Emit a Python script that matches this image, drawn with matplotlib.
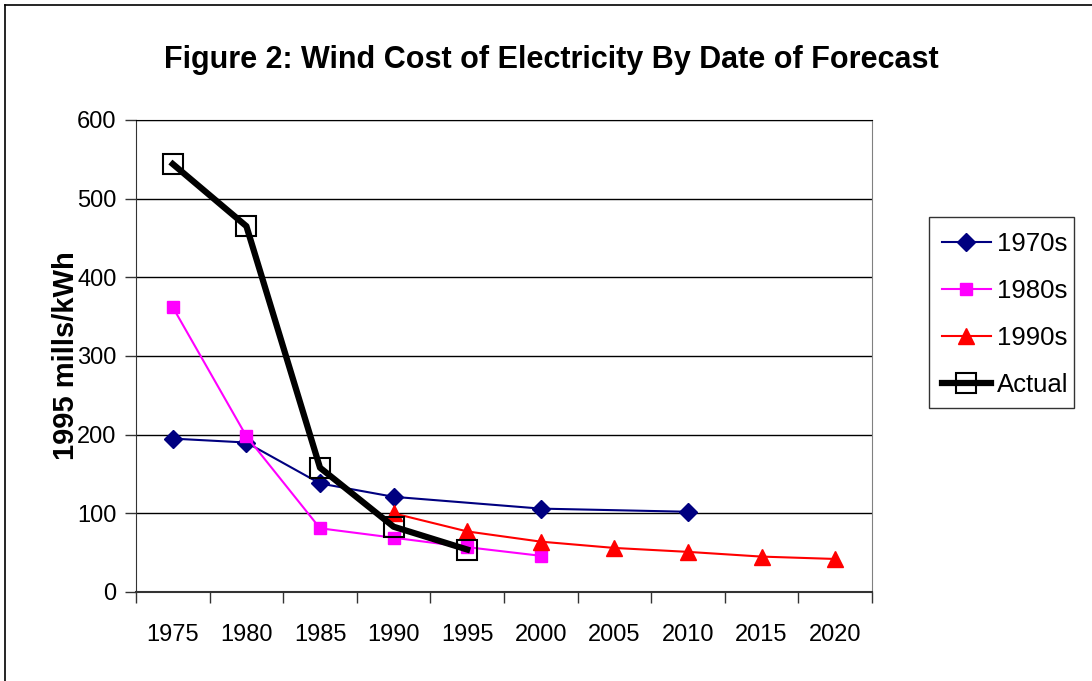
import numpy as np
import matplotlib
matplotlib.use("Agg")
import matplotlib.pyplot as plt
from matplotlib.lines import Line2D
from matplotlib.patches import Rectangle

# Forecast years (category axis) and cost series, 1995 mills/kWh
years = ["1975", "1980", "1985", "1990", "1995", "2000", "2005", "2010", "2015", "2020"]
nan = np.nan
forecast_1970s = [195, 190, 138, 121, nan, 106, nan, 102, nan, nan]
forecast_1980s = [362, 198, 81, 69, 57, 46, nan, nan, nan, nan]
forecast_1990s = [nan, nan, nan, 100, 77, 64, 56, 51, 45, 42]
actual = [544, 465, 158, 83, 54, nan, nan, nan, nan, nan]
y_ticks = [0, 100, 200, 300, 400, 500, 600]

FONT = "Liberation Sans"

W, H = 1092, 681
fig = plt.figure(figsize=(W / 100, H / 100), dpi=100)
fig.patch.set_facecolor("white")

# outer chart frame (left and top edges)
fig.add_artist(Line2D([5 / W, 5 / W], [0, 1 - 5 / H], color="black", lw=1.2,
                      transform=fig.transFigure))
fig.add_artist(Line2D([5 / W, 1], [1 - 5 / H, 1 - 5 / H], color="black", lw=1.2,
                      transform=fig.transFigure))

left, right, top, bottom = 136, 872, 120, 592
ax = fig.add_axes([left / W, 1 - bottom / H, (right - left) / W, (bottom - top) / H])

x = np.arange(len(years))


def draw(values, **kw):
    v = np.asarray(values, dtype=float)
    m = ~np.isnan(v)
    return ax.plot(x[m], v[m], **kw)[0]


h1 = draw(forecast_1970s, color="#000080", lw=1.5, marker="D", ms=9,
          mfc="#000080", mec="#000080", label="1970s", zorder=4)
h2 = draw(forecast_1980s, color="#FF00FF", lw=1.5, marker="s", ms=9,
          mfc="#FF00FF", mec="#FF00FF", label="1980s", zorder=4)
h3 = draw(forecast_1990s, color="#FF0000", lw=1.5, marker="^", ms=11,
          mfc="#FF0000", mec="#FF0000", label="1990s", zorder=4)
h4 = draw(actual, color="black", lw=4.5, marker="s", ms=14,
          mfc="none", mec="black", mew=1.5, label="Actual", zorder=5)

ax.set_xlim(-0.5, len(years) - 0.5)
ax.set_ylim(0, 600)
ax.set_yticks(y_ticks)
ax.set_yticklabels([str(t) for t in y_ticks], fontfamily=FONT, fontsize=17)
ax.set_xticks(np.arange(len(years) + 1) - 0.5)
ax.set_xticklabels([])
ax.set_xticks(x, minor=True)
ax.set_xticklabels(years, minor=True, fontfamily=FONT, fontsize=17)
ax.tick_params(axis="x", which="major", direction="out", length=8, width=1, color="#333333")
ax.tick_params(axis="x", which="minor", length=0, pad=23)
ax.tick_params(axis="y", direction="out", length=8, width=1, color="#333333", pad=6)

ax.grid(axis="y", color="black", lw=1)
ax.set_axisbelow(True)
ax.spines["left"].set_color("#333333")
ax.spines["bottom"].set_color("#333333")
ax.spines["bottom"].set_linewidth(1.5)
ax.spines["right"].set_color("#808080")
ax.spines["top"].set_color("black")

ax.set_ylabel("1995 mills/kWh", fontfamily=FONT, fontweight="bold",
              fontsize=21, labelpad=-2)

fig.text(551 / W, 1 - 60 / H, "Figure 2: Wind Cost of Electricity By Date of Forecast",
         ha="center", va="center", fontfamily=FONT, fontweight="bold", fontsize=22)

# legend entries, with a plain rectangular border drawn around them
leg = fig.legend(handles=[h1, h2, h3, h4], loc="upper left",
                 bbox_to_anchor=(942 / W, 1 - 232 / H),
                 prop={"family": FONT, "size": 18.5}, frameon=False,
                 handlelength=1.9, handletextpad=0.25,
                 labelspacing=0.9, borderpad=0, borderaxespad=0)
fig.add_artist(Rectangle((929 / W, 1 - 408 / H), (1074 - 929) / W, (408 - 217) / H,
                         transform=fig.transFigure, fill=False,
                         edgecolor="#333333", lw=1))

fig.savefig("out.png", dpi=100, facecolor="white")
